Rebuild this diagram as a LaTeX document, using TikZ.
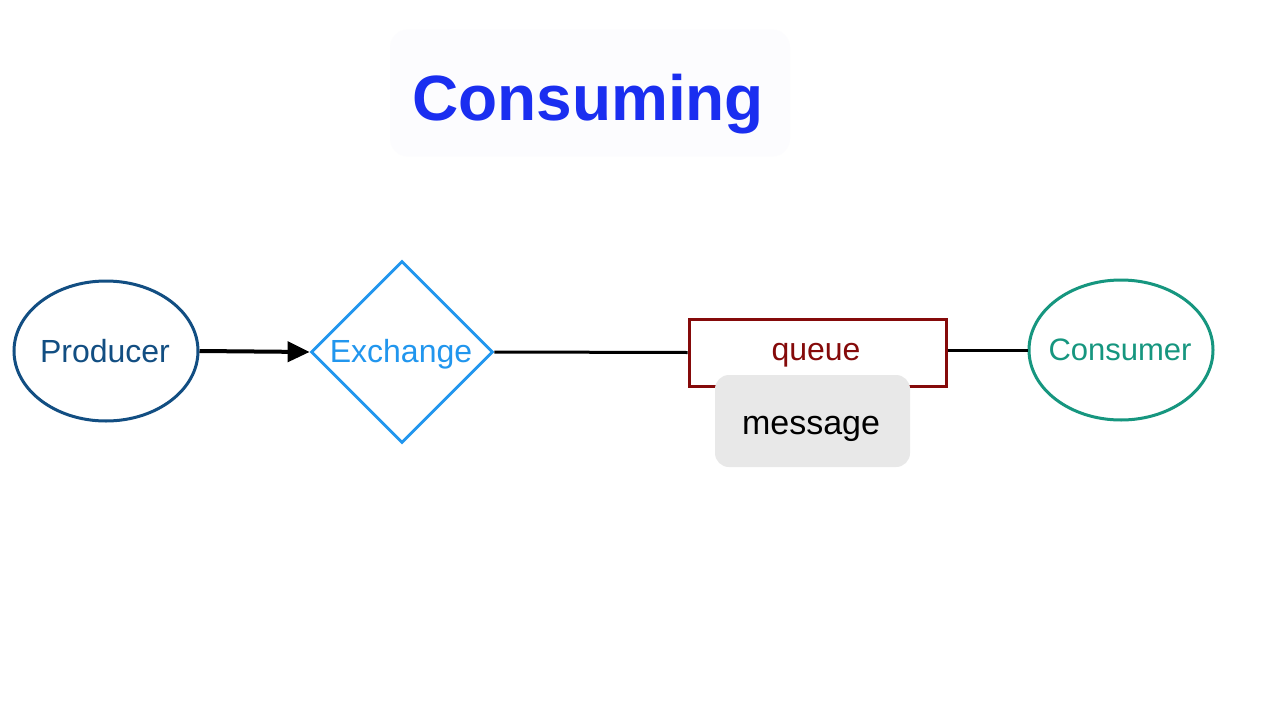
\documentclass[tikz,border=0pt]{standalone}
\usepackage{fontspec}
\setmainfont{Liberation Sans}
\usetikzlibrary{shapes.geometric,arrows.meta}
\definecolor{titleblue}{HTML}{1A2EF0}
\definecolor{prodblue}{HTML}{124E82}
\definecolor{exblue}{HTML}{2196EE}
\definecolor{queuered}{HTML}{850A0A}
\definecolor{consteal}{HTML}{16967F}
\definecolor{msggray}{HTML}{E8E8E8}
\definecolor{titlebg}{HTML}{FCFCFE}
\tikzset{
  lbl/.style={font=\fontsize{32}{36}\selectfont},
  endpoint/.style={ellipse, draw, line width=3pt, minimum width=184pt, minimum height=140pt, inner sep=0pt},
  exch/.style={diamond, draw=exblue, line width=2.8pt, minimum width=182pt, minimum height=182pt, inner sep=0pt},
  qbox/.style={rectangle, draw=queuered, line width=3pt, minimum width=257pt, minimum height=67pt, inner sep=0pt},
  msgbox/.style={rectangle, rounded corners=14pt, fill=msggray, minimum width=195pt, minimum height=92pt, inner sep=0pt},
  link/.style={line width=3pt, black},
}
\begin{document}
\begin{tikzpicture}[x=1pt, y=-1pt]
\useasboundingbox (0,0) rectangle (1280,720);
\fill[white] (0,0) rectangle (1280,720);

% title
\node[fill=titlebg, rounded corners=18pt, minimum width=400pt, minimum height=127pt] (titlebox) at (590,93) {};
\node[text=titleblue, font=\fontsize{64}{70}\selectfont\bfseries, anchor=base] (title) at (588,120) {Consuming};

% shapes
\node[endpoint, draw=prodblue] (prod) at (106,351) {};
\node[exch] (ex) at (402,352) {};
\node[qbox] (q) at (817.5,352.5) {};
\node[endpoint, draw=consteal] (cons) at (1121,350) {};

% labels, set on their baselines
\node[lbl, text=prodblue, anchor=base] (prodtext) at (105,362) {Producer};
\node[lbl, text=exblue, anchor=base] (extext) at (401,362) {Exchange};
\node[lbl, text=queuered, anchor=base] (qtext) at (816,360) {queue};
\node[lbl, text=consteal, anchor=base, font=\fontsize{31}{36}\selectfont] (constext) at (1120,360) {Consumer};

% connectors
\draw[link, line width=4pt, -{Triangle[length=22pt, width=20pt]}] (prod.east) -- (ex.west);
\draw[link] (ex.east) -- (q.west);
\draw[link] (q.east |- cons.west) -- (cons.west);

% message sitting on the queue
\node[msgbox] (msg) at (812.5,421) {};
\node[font=\fontsize{34}{38}\selectfont, anchor=base] (msgtext) at (811,434) {message};
\end{tikzpicture}
\end{document}
